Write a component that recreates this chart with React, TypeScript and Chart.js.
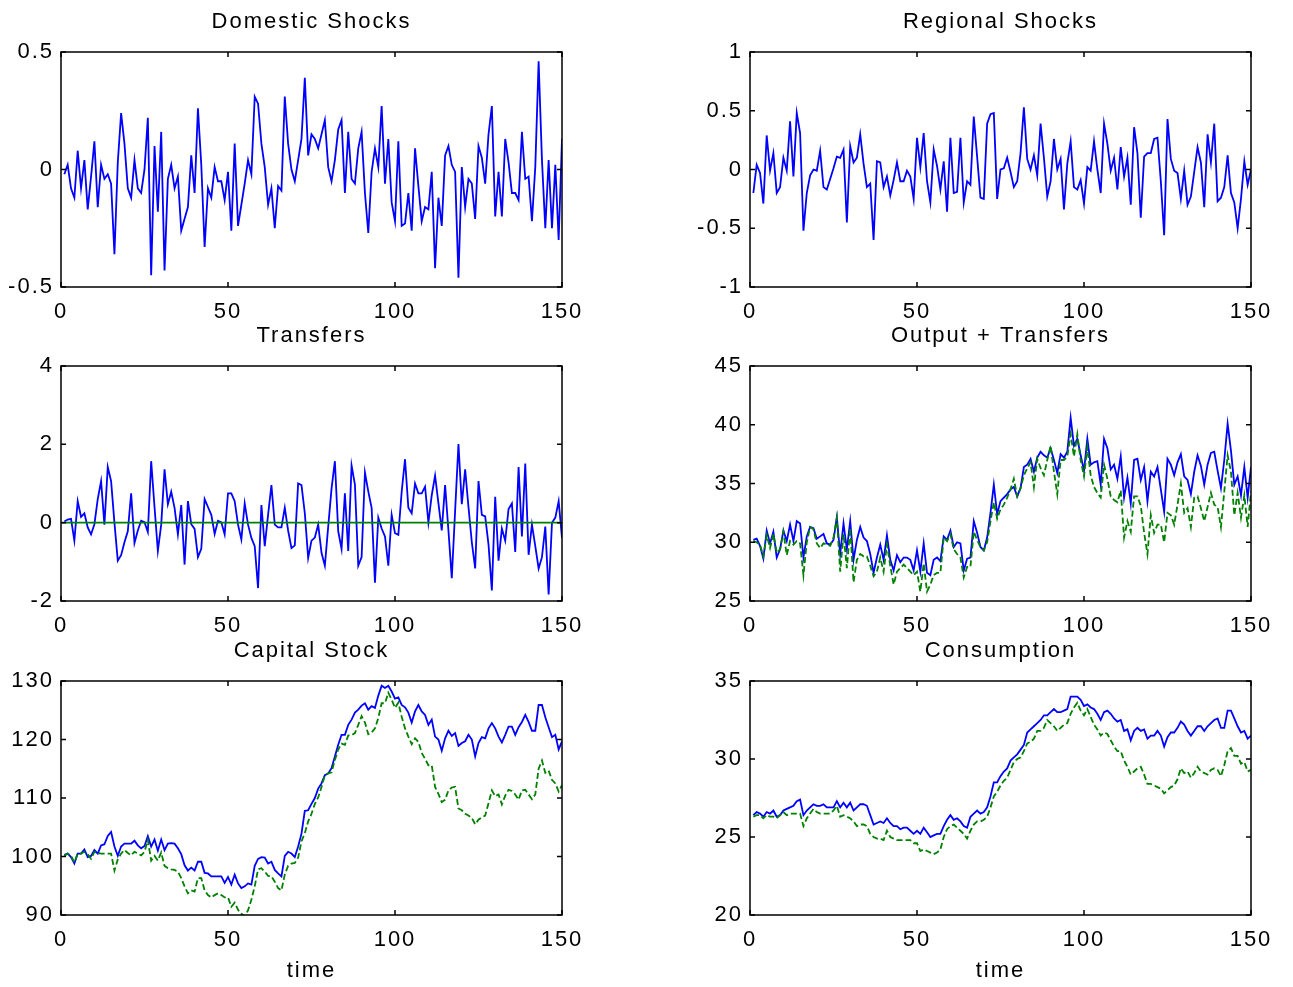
import { useEffect, useRef } from "react";
import { Chart, registerables } from "chart.js";

Chart.register(...registerables);

// ---- series, one value per period t = 1..150 ----
const domesticShocks = [
  -0.02, 0.02, -0.08, -0.12, 0.08, -0.08, 0.04, -0.17, -0.03, 0.12,
  -0.16, 0.02, -0.04, -0.02, -0.06, -0.36, 0.03, 0.24, 0.11, -0.08,
  -0.12, 0.04, -0.08, -0.1, 0.0, 0.22, -0.45, 0.1, -0.18, 0.16,
  -0.43, -0.04, 0.02, -0.08, -0.03, -0.26, -0.21, -0.16, 0.06, -0.1,
  0.26, 0.02, -0.33, -0.08, -0.12, 0.01, -0.05, -0.05, -0.13, -0.01,
  -0.26, 0.11, -0.24, -0.15, -0.06, 0.04, -0.02, 0.31, 0.28, 0.11,
  0.01, -0.15, -0.08, -0.25, -0.07, -0.09, 0.31, 0.11, 0.0, -0.05,
  0.04, 0.13, 0.39, 0.06, 0.15, 0.13, 0.09, 0.15, 0.21, 0.01,
  -0.05, 0.04, 0.17, 0.21, -0.1, 0.16, -0.04, -0.06, 0.09, 0.16,
  -0.1, -0.27, -0.01, 0.09, 0.01, 0.27, -0.06, 0.13, -0.14, -0.22,
  0.12, -0.24, -0.23, -0.1, -0.26, 0.09, -0.07, -0.22, -0.16, -0.17,
  -0.01, -0.42, -0.12, -0.24, 0.06, 0.1, 0.02, -0.01, -0.46, 0.01,
  -0.16, -0.04, -0.06, -0.21, 0.1, 0.05, -0.06, 0.15, 0.27, -0.2,
  -0.01, -0.2, 0.13, 0.03, -0.1, -0.1, -0.13, 0.16, -0.04, -0.03,
  -0.22, 0.01, 0.46, 0.04, -0.25, 0.04, -0.25, 0.02, -0.3, 0.13,
];

const regionalShocks = [
  -0.2, 0.04, -0.03, -0.29, 0.29, -0.01, 0.14, -0.2, -0.15, 0.1,
  -0.01, 0.41, -0.06, 0.48, 0.31, -0.52, -0.2, -0.05, 0.0, -0.01,
  0.16, -0.15, -0.17, -0.08, 0.01, 0.11, 0.1, 0.17, -0.45, 0.2,
  0.06, 0.1, 0.3, 0.05, -0.15, -0.12, -0.6, 0.07, 0.06, -0.15,
  -0.06, -0.22, -0.09, 0.06, -0.1, -0.1, -0.01, -0.06, -0.25, 0.27,
  0.02, 0.31, -0.1, -0.28, 0.17, 0.03, -0.17, 0.07, -0.36, 0.27,
  -0.2, -0.19, 0.27, -0.28, -0.1, -0.13, 0.45, 0.11, -0.24, -0.25,
  0.39, 0.47, 0.48, -0.25, 0.0, 0.01, 0.1, -0.02, -0.15, -0.1,
  0.14, 0.53, 0.09, 0.0, 0.12, -0.05, 0.39, 0.1, -0.23, -0.1,
  0.26, 0.0, 0.09, -0.34, 0.05, 0.24, -0.15, -0.17, -0.09, -0.29,
  0.02, -0.01, 0.24, 0.0, -0.2, 0.39, 0.22, -0.01, 0.1, -0.17,
  0.19, -0.06, 0.1, -0.3, 0.36, 0.14, -0.41, 0.11, 0.14, 0.14,
  0.26, 0.27, -0.1, -0.56, 0.43, 0.09, -0.01, -0.03, -0.25, -0.01,
  -0.3, -0.23, -0.02, 0.19, 0.06, -0.32, 0.3, 0.06, 0.39, -0.27,
  -0.24, -0.15, 0.12, -0.2, -0.28, -0.5, -0.25, 0.07, -0.13, 0.0,
];

const transfers = [
  0.03, 0.08, 0.1, -0.46, 0.55, 0.15, 0.24, -0.12, -0.3, -0.04,
  0.6, 1.06, -0.05, 1.42, 1.06, 0.0, -0.97, -0.83, -0.5, -0.22,
  0.75, -0.52, -0.2, 0.05, 0.01, -0.24, 1.57, 0.4, -0.72, -0.05,
  1.36, 0.47, 0.79, 0.38, -0.3, 0.45, -1.07, 0.55, -0.04, -0.16,
  -0.88, -0.67, 0.6, 0.4, 0.2, -0.29, 0.05, 0.01, -0.3, 0.75,
  0.75, 0.55, -0.05, -0.43, 0.49, -0.05, -0.39, -0.6, -1.67, 0.45,
  -0.6, 0.2, 0.96, -0.05, -0.12, -0.12, 0.38, -0.2, -0.65, -0.58,
  1.0, 0.96, 0.24, -0.9, -0.46, -0.38, -0.05, -0.77, -1.1, -0.1,
  0.87, 1.57, -0.22, -0.67, 0.75, -0.72, 1.46, 0.97, -1.1, -0.88,
  1.28, 0.8, 0.38, -1.53, 0.13, -0.15, -0.35, -1.1, 0.2, -0.27,
  -0.31, 0.79, 1.62, 0.38, 0.24, 1.0, 0.75, 0.75, 0.92, 0.0,
  0.7, 1.2, 0.5, -0.2, 0.96, -0.2, -1.42, 0.3, 2.01, 0.47,
  1.36, 0.4, -0.5, -1.17, 1.06, 0.2, 0.16, -0.56, -1.73, 0.66,
  -0.97, -0.15, -0.46, 0.35, 0.49, -0.75, 1.42, -0.35, 1.51, -0.82,
  -0.05, -0.6, -1.17, -0.88, -0.1, -1.83, 0.0, 0.13, 0.55, -0.39,
];

// zero-transfer reference line across the whole sample
const transferMeanX = [0, 150];
const transferMean = [0, 0];

const outputTransfersA = [
  30.2, 30.3, 29.7, 28.6, 31.0, 29.9, 30.9, 28.7, 29.4, 31.0,
  30.1, 31.5, 30.1, 31.8, 31.6, 28.7, 30.5, 31.3, 31.2, 30.3,
  30.5, 30.7, 29.9, 29.8, 30.2, 32.1, 29.0, 31.6, 29.4, 31.8,
  28.5, 30.2, 31.3, 30.4, 30.1, 29.0, 27.4, 28.7, 29.8, 28.5,
  30.6, 28.5, 27.6, 28.9, 28.3, 28.7, 28.7, 28.5, 27.6, 29.3,
  27.5, 29.9, 27.4, 27.2, 28.5, 28.7, 28.4, 30.5, 30.2, 31.0,
  29.6, 30.0, 29.9, 27.6, 28.6, 28.7, 31.8, 30.8, 29.6, 29.3,
  30.4, 32.5, 34.9, 32.4, 33.5, 33.8, 34.1, 34.5, 34.7, 33.9,
  34.6, 36.4, 36.6, 37.1, 36.0, 37.2, 37.7, 37.4, 37.2, 38.0,
  37.0, 35.9, 37.5, 37.2, 37.7, 40.6, 38.2, 38.8, 37.4, 36.1,
  38.8, 36.6, 36.8, 36.9, 34.9, 38.8, 38.0, 36.2, 36.6, 35.4,
  37.3, 33.8, 35.5, 33.3, 37.0, 37.1, 35.3, 36.4, 33.5, 36.0,
  35.6, 36.4, 34.5, 32.6, 37.1, 36.6, 35.7, 36.8, 37.5, 35.6,
  35.3, 34.1, 36.0, 37.4, 36.5, 34.9, 36.6, 37.6, 37.7, 36.1,
  34.6, 37.0, 40.1, 37.8, 34.9, 35.6, 34.0, 36.4, 33.8, 36.4,
];

const outputTransfersB = [
  30.1, 30.0, 29.8, 28.8, 30.6, 29.5, 30.7, 29.1, 29.4, 30.9,
  28.9, 30.1, 29.8, 30.1, 29.9, 27.2, 30.0, 31.3, 31.1, 29.9,
  29.5, 29.9, 29.8, 29.7, 30.4, 32.1, 27.5, 30.7, 27.8, 31.2,
  26.6, 28.5, 29.0, 28.8, 28.8, 28.0, 27.1, 27.5, 28.7, 27.5,
  29.8, 28.0, 26.4, 27.5, 27.8, 28.1, 27.8, 27.5, 27.2, 27.5,
  25.8, 28.2, 25.8, 26.4, 27.2, 27.4, 27.4, 30.4, 30.1, 30.7,
  29.4, 29.0, 28.7, 27.0, 27.9, 27.9, 30.9, 30.2, 29.6, 29.3,
  30.0, 31.8, 33.4, 32.0, 32.8, 33.2, 33.8, 34.5, 35.4, 33.9,
  34.6, 35.7, 36.3, 36.8, 34.7, 37.1, 36.3, 35.7, 37.0, 38.2,
  36.0, 34.1, 37.0, 37.0, 37.3, 39.2, 37.3, 39.2, 37.0, 35.6,
  38.1, 35.7, 34.7, 34.2, 33.8, 36.6, 35.4, 33.9, 33.6, 33.4,
  34.4, 30.4, 31.8, 30.9, 33.9, 33.9, 33.1, 30.8, 29.0, 32.3,
  30.8, 31.5, 31.5, 30.0, 32.5, 32.3, 31.5, 33.2, 35.0, 32.5,
  32.9, 31.3, 33.8, 33.9, 32.9, 31.8, 33.0, 34.2, 33.2, 33.0,
  31.3, 34.3, 37.4, 36.0, 32.3, 34.2, 32.1, 34.0, 31.3, 34.3,
];

const capitalA = [
  100.3, 100.5, 99.9, 98.8, 100.5, 100.5, 101.2, 99.9, 100.1, 101.1,
  100.5, 101.9, 102.1, 103.5, 104.2, 101.7, 100.1, 101.7, 102.2, 102.2,
  102.2, 102.7, 101.9, 101.4, 101.8, 103.5, 101.7, 102.9, 101.0, 102.9,
  101.1, 102.2, 102.3, 102.2, 101.4, 100.4, 98.5, 97.6, 98.1, 97.6,
  99.1, 99.1, 97.2, 97.1, 96.6, 96.6, 96.6, 96.6, 95.5, 96.5,
  95.2, 96.9, 95.4, 94.6, 94.9, 95.4, 95.2, 98.4, 99.6, 99.9,
  99.8, 98.8, 99.1, 97.7, 97.1, 96.6, 100.1, 100.8, 100.5, 99.9,
  101.7, 103.9, 107.8, 107.9, 109.0, 110.0, 111.6, 112.5, 113.9, 114.2,
  115.1, 117.1, 119.1, 120.8, 120.8, 122.5, 123.4, 124.6, 125.1, 125.8,
  126.2, 125.1, 125.7, 125.4, 127.5, 129.2, 128.8, 129.2, 128.2, 127.0,
  127.2, 125.9, 125.5, 124.6, 122.9, 124.8, 125.9, 124.8, 124.2, 122.5,
  123.4, 120.5, 120.0, 118.1, 120.2, 121.5, 120.6, 121.1, 118.9, 119.4,
  119.7, 120.8, 120.0, 117.1, 119.4, 120.4, 120.2, 121.9, 122.8, 121.9,
  120.5, 119.5, 120.8, 122.2, 122.2, 120.8, 122.1, 123.0, 124.2, 123.0,
  121.5, 121.5, 125.9, 125.9, 123.8, 122.1, 120.4, 120.8, 118.3, 119.7,
];

const capitalB = [
  100.1, 100.5, 100.1, 99.0, 100.5, 100.5, 100.8, 100.4, 99.6, 100.8,
  100.6, 100.5, 100.5, 100.5, 100.5, 97.6, 99.5, 100.5, 101.1, 100.6,
  100.2, 100.8, 100.5, 100.2, 100.8, 102.8, 99.3, 100.1, 99.3, 100.7,
  98.4, 98.0, 97.8, 97.7, 97.4, 96.3, 94.9, 93.7, 94.2, 94.0,
  96.3, 96.3, 94.2, 93.4, 93.0, 93.4, 93.7, 93.4, 93.0, 93.0,
  91.4, 92.1, 90.9, 90.2, 89.8, 90.8, 92.6, 94.9, 97.8, 98.0,
  97.4, 96.7, 96.6, 95.7, 94.6, 94.2, 96.9, 98.4, 98.8, 98.9,
  99.8, 102.6, 104.0, 106.0, 107.3, 109.0, 110.1, 111.9, 113.9, 114.2,
  114.4, 116.5, 118.3, 119.3, 119.1, 120.7, 120.7, 121.1, 122.5, 124.0,
  122.9, 120.9, 121.2, 121.9, 123.7, 126.2, 126.2, 128.0, 126.8, 125.4,
  126.3, 123.9, 121.9, 120.5, 119.2, 120.2, 119.6, 117.7, 116.7, 115.6,
  115.6, 111.9, 110.7, 109.3, 109.7, 111.3, 111.8, 111.9, 108.2, 107.9,
  107.3, 107.0, 106.6, 105.5, 106.3, 106.7, 107.0, 109.1, 111.3, 110.3,
  110.6, 108.9, 110.4, 111.4, 111.2, 110.6, 109.7, 111.3, 111.4, 110.6,
  109.8, 110.6, 115.0, 116.4, 114.3, 114.7, 113.1, 112.5, 111.1, 112.2,
];

const consumptionA = [
  26.4, 26.6, 26.5, 26.3, 26.6, 26.5, 26.7, 26.3, 26.4, 26.7,
  26.8, 26.9, 27.0, 27.3, 27.4, 26.4, 26.7, 26.9, 27.1, 27.0,
  27.0, 27.1, 26.9, 26.9, 26.9, 27.3, 26.9, 27.2, 26.9, 27.2,
  26.7, 26.9, 27.1, 27.1, 27.0, 26.4, 25.8, 25.9, 26.0, 25.9,
  26.2, 25.9, 25.7, 25.7, 25.5, 25.6, 25.6, 25.4, 25.2, 25.4,
  25.2, 25.6, 25.3, 25.0, 25.1, 25.2, 25.2, 25.7, 26.1, 26.4,
  26.1, 26.2, 26.0, 25.7, 25.6, 26.3, 26.5, 26.7, 26.5, 26.6,
  26.9, 27.6, 28.5, 28.5, 28.9, 29.2, 29.4, 29.9, 30.1, 30.3,
  30.6, 30.9, 31.7, 31.9, 32.1, 32.3, 32.5, 32.8, 32.8, 33.0,
  33.2, 33.0, 33.0, 33.1, 33.2, 34.0, 34.0, 34.0, 33.8, 33.4,
  33.5, 33.3, 33.2, 32.9, 32.5, 33.0, 33.1, 32.9, 32.6, 32.4,
  32.5, 31.8, 31.9, 31.2, 31.8, 32.0, 31.8, 31.9, 31.3, 31.5,
  31.5, 31.8, 31.5, 30.8, 31.4, 31.7, 31.7, 32.0, 32.4, 32.2,
  31.8, 31.5, 31.8, 32.1, 32.1, 31.8, 32.1, 32.3, 32.5, 32.6,
  32.0, 32.0, 33.1, 33.1, 32.6, 32.1, 31.7, 31.8, 31.3, 31.5,
];

const consumptionB = [
  26.3, 26.4, 26.4, 26.2, 26.4, 26.3, 26.3, 26.2, 26.4, 26.6,
  26.4, 26.5, 26.5, 26.5, 26.5, 25.7, 26.2, 26.5, 26.8, 26.6,
  26.5, 26.5, 26.5, 26.5, 26.7, 27.0, 26.3, 26.4, 26.3, 26.2,
  26.0, 25.7, 25.8, 25.8, 25.7, 25.2, 25.0, 24.9, 24.9, 24.8,
  25.4, 25.0, 24.9, 24.8, 24.8, 24.8, 24.8, 24.8, 24.6, 24.6,
  24.1, 24.2, 24.1, 24.0, 23.9, 24.0, 24.2, 25.0, 25.5, 25.7,
  25.8, 25.6, 25.4, 25.2, 24.9, 25.4, 25.8, 26.0, 26.0, 26.1,
  26.3, 26.9, 27.6, 27.9, 28.3, 28.6, 28.8, 29.3, 29.8, 30.0,
  30.1, 30.5, 31.0, 31.1, 31.3, 31.8, 31.8, 32.0, 32.5, 32.3,
  32.1, 31.8, 32.0, 32.2, 32.3, 32.9, 33.3, 33.6, 33.1, 32.8,
  33.2, 32.7, 32.2, 31.9, 31.5, 31.7, 31.6, 31.2, 30.8, 30.5,
  30.5, 29.9, 29.5, 29.0, 29.2, 29.4, 29.5, 29.0, 28.4, 28.4,
  28.3, 28.2, 28.1, 27.8, 28.0, 28.2, 28.3, 28.7, 29.4, 29.1,
  29.2, 28.8, 29.1, 29.5, 29.2, 29.1, 29.0, 29.3, 29.4, 29.3,
  28.9, 29.6, 30.5, 30.7, 30.2, 30.2, 29.7, 29.8, 29.2, 29.3,
];

// ---- axis ranges ----
const timeRange = { min: 0, max: 150, step: 50 };
const domesticRange = { min: -0.5, max: 0.5, step: 0.5 };
const regionalRange = { min: -1, max: 1, step: 0.5 };
const transfersRange = { min: -2, max: 4, step: 2 };
const outputRange = { min: 25, max: 45, step: 5 };
const capitalRange = { min: 90, max: 130, step: 10 };
const consumptionRange = { min: 20, max: 35, step: 5 };

const BLUE = "#0000ff";
const GREEN = "#008000";
const DASH = [6, 3];
const LINE_WIDTH = 1.8;
const FONT_FAMILY = "'Liberation Sans', Arial, Helvetica, sans-serif";
const FONT_SIZE = 22;

type Series = {
  values: number[];
  xs?: number[];
  color: string;
  dash?: number[];
  order: number;
};

type Range = { min: number; max: number; step: number };

type PanelSpec = {
  key: string;
  title: string;
  xTitle?: string;
  range: Range;
  series: Series[];
  left: number;
  top: number;
  width: number;
  height: number;
  yAxisWidth: number;
  rightPad: number;
  xAxisHeight: number;
};

// column / row geometry of the 3x2 grid
const columns = [
  { left: 0, width: 600, yAxisWidth: 53, rightPad: 46 },
  { left: 650, width: 627, yAxisWidth: 92, rightPad: 34 },
];
const rows = [
  { top: 0, height: 329, xAxisHeight: 50 },
  { top: 314, height: 329, xAxisHeight: 50 },
  { top: 629, height: 345, xAxisHeight: 67 },
];

function cell(col: number, row: number) {
  return { ...columns[col], ...rows[row] };
}

const panels: PanelSpec[] = [
  {
    key: "domestic",
    title: "Domestic Shocks",
    range: domesticRange,
    series: [{ values: domesticShocks, color: BLUE, order: 1 }],
    ...cell(0, 0),
  },
  {
    key: "regional",
    title: "Regional Shocks",
    range: regionalRange,
    series: [{ values: regionalShocks, color: BLUE, order: 1 }],
    ...cell(1, 0),
  },
  {
    key: "transfers",
    title: "Transfers",
    range: transfersRange,
    series: [
      { values: transfers, color: BLUE, order: 1 },
      { values: transferMean, xs: transferMeanX, color: GREEN, order: 0 },
    ],
    ...cell(0, 1),
  },
  {
    key: "output",
    title: "Output + Transfers",
    range: outputRange,
    series: [
      { values: outputTransfersA, color: BLUE, order: 1 },
      { values: outputTransfersB, color: GREEN, dash: DASH, order: 0 },
    ],
    ...cell(1, 1),
  },
  {
    key: "capital",
    title: "Capital Stock",
    xTitle: "time",
    range: capitalRange,
    series: [
      { values: capitalA, color: BLUE, order: 1 },
      { values: capitalB, color: GREEN, dash: DASH, order: 0 },
    ],
    ...cell(0, 2),
  },
  {
    key: "consumption",
    title: "Consumption",
    xTitle: "time",
    range: consumptionRange,
    series: [
      { values: consumptionA, color: BLUE, order: 1 },
      { values: consumptionB, color: GREEN, dash: DASH, order: 0 },
    ],
    ...cell(1, 2),
  },
];

// Plain tick text: "1" rather than "1.0", "-0.5" rather than "-0.50".
const plainTick = (v: number | string) => String(Math.round(Number(v) * 1000) / 1000);

// Boxed axes with short inward tick marks on all four sides.
const boxPlugin = {
  id: "boxAxes",
  beforeDraw(chart: any) {
    chart.ctx.letterSpacing = "2px";
  },
  afterDraw(chart: any) {
    const { ctx, chartArea: a, scales } = chart;
    const len = 5;
    ctx.save();
    ctx.strokeStyle = "#000";
    ctx.lineWidth = 1.5;
    ctx.strokeRect(a.left, a.top, a.right - a.left, a.bottom - a.top);
    ctx.beginPath();
    for (const t of scales.x.ticks) {
      const px = scales.x.getPixelForValue(t.value);
      ctx.moveTo(px, a.bottom);
      ctx.lineTo(px, a.bottom - len);
      ctx.moveTo(px, a.top);
      ctx.lineTo(px, a.top + len);
    }
    for (const t of scales.y.ticks) {
      const py = scales.y.getPixelForValue(t.value);
      ctx.moveTo(a.left, py);
      ctx.lineTo(a.left + len, py);
      ctx.moveTo(a.right, py);
      ctx.lineTo(a.right - len, py);
    }
    ctx.stroke();
    ctx.restore();
  },
};

function Panel({ spec }: { spec: PanelSpec }) {
  const ref = useRef<HTMLCanvasElement>(null);

  useEffect(() => {
    const canvas = ref.current;
    if (!canvas) return;
    const font = { family: FONT_FAMILY, size: FONT_SIZE };
    const chart = new Chart(canvas, {
      type: "line",
      data: {
        datasets: spec.series.map((s) => ({
          data: s.values.map((v, k) => ({ x: s.xs ? s.xs[k] : k + 1, y: v })),
          borderColor: s.color,
          borderWidth: LINE_WIDTH,
          borderDash: s.dash ?? [],
          pointRadius: 0,
          fill: false,
          tension: 0,
          order: s.order,
        })),
      },
      options: {
        responsive: false,
        animation: false,
        events: [],
        layout: { padding: { left: 0, right: spec.rightPad, top: 0, bottom: 0 } },
        plugins: {
          legend: { display: false },
          tooltip: { enabled: false },
          title: {
            display: true,
            text: spec.title,
            fullSize: false,
            color: "#000",
            font: { ...font, weight: "normal", lineHeight: 1 },
            padding: { top: 3, bottom: 19 },
          },
        },
        scales: {
          x: {
            type: "linear",
            min: timeRange.min,
            max: timeRange.max,
            grid: { display: false, drawTicks: false },
            border: { display: false },
            ticks: {
              stepSize: timeRange.step,
              autoSkip: false,
              maxRotation: 0,
              color: "#000",
              padding: 12,
              font: { ...font, lineHeight: 1.2 },
              callback: plainTick,
            },
            title: {
              display: !!spec.xTitle,
              text: spec.xTitle ?? "",
              color: "#000",
              font: { ...font, lineHeight: 1 },
              padding: { top: 0, bottom: 0 },
            },
            afterFit: (scale: any) => {
              scale.height = spec.xAxisHeight;
            },
          },
          y: {
            type: "linear",
            min: spec.range.min,
            max: spec.range.max,
            grid: { display: false, drawTicks: false },
            border: { display: false },
            ticks: {
              stepSize: spec.range.step,
              color: "#000",
              padding: 7,
              font,
              callback: plainTick,
            },
            afterFit: (scale: any) => {
              scale.width = spec.yAxisWidth;
            },
          },
        },
      },
      plugins: [boxPlugin],
    } as any);
    return () => chart.destroy();
  }, [spec]);

  return (
    <canvas
      ref={ref}
      width={spec.width}
      height={spec.height}
      style={{
        position: "absolute",
        left: spec.left,
        top: spec.top,
        width: spec.width,
        height: spec.height,
      }}
    />
  );
}

export default function App() {
  return (
    <div style={{ position: "relative", width: 1277, height: 971, background: "#fff" }}>
      {panels.map((p) => (
        <Panel key={p.key} spec={p} />
      ))}
    </div>
  );
}
